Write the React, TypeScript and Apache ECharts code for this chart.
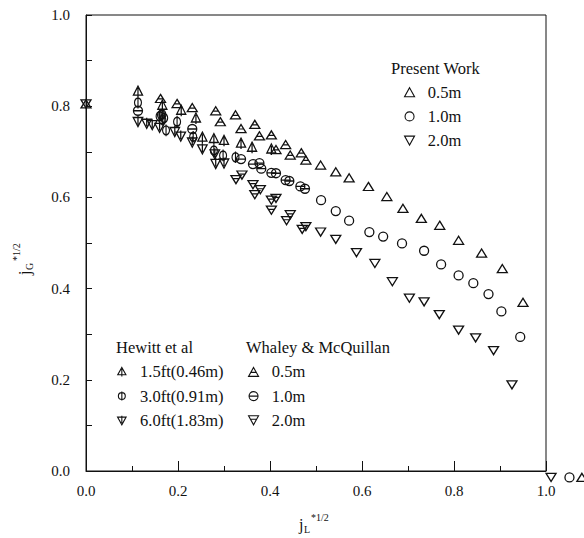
import React, { useEffect, useRef } from "react";
import * as echarts from "echarts";

// ---------- data (j_L*^1/2, j_G*^1/2) ----------
const presentWork05: number[][] = [
  [0.0, 0.805], [0.51, 0.671], [0.543, 0.656], [0.572, 0.643], [0.614, 0.624], [0.654, 0.602],
  [0.689, 0.576], [0.729, 0.554], [0.769, 0.539], [0.81, 0.506], [0.86, 0.478],
  [0.905, 0.444], [0.95, 0.37], [1.078, -0.014],
];
const presentWork10: number[][] = [
  [0.511, 0.594], [0.543, 0.57], [0.572, 0.549], [0.616, 0.524], [0.646, 0.514],
  [0.687, 0.499], [0.735, 0.483], [0.772, 0.453], [0.81, 0.429], [0.842, 0.412],
  [0.875, 0.388], [0.903, 0.35], [0.944, 0.294], [1.051, -0.014],
];
const presentWork20: number[][] = [
  [0.0, 0.805], [0.51, 0.524], [0.543, 0.508], [0.588, 0.479], [0.628, 0.455], [0.666, 0.415],
  [0.703, 0.379], [0.735, 0.371], [0.768, 0.343], [0.81, 0.309], [0.847, 0.292],
  [0.886, 0.264], [0.926, 0.189], [1.011, -0.014],
];
const hewitt15: number[][] = [
  [0.113, 0.832], [0.166, 0.801], [0.207, 0.79], [0.239, 0.773], [0.253, 0.731],
  [0.278, 0.728], [0.3, 0.724], [0.337, 0.718], [0.361, 0.709], [0.403, 0.705],
];
const hewitt30: number[][] = [
  [0.113, 0.808], [0.166, 0.782], [0.16, 0.778], [0.17, 0.774], [0.166, 0.77],
  [0.163, 0.781], [0.174, 0.747], [0.198, 0.766], [0.233, 0.733], [0.278, 0.703],
  [0.298, 0.692], [0.325, 0.688],
];
const hewitt60: number[][] = [
  [0.113, 0.767], [0.132, 0.763], [0.144, 0.76], [0.16, 0.754], [0.193, 0.745],
  [0.206, 0.735], [0.231, 0.722], [0.253, 0.707], [0.28, 0.696], [0.282, 0.675], [0.3, 0.676],
];
const whaley05: number[][] = [
  [0.162, 0.817], [0.198, 0.806], [0.231, 0.797], [0.282, 0.79], [0.292, 0.766],
  [0.325, 0.781], [0.337, 0.751], [0.367, 0.76], [0.377, 0.735], [0.403, 0.737],
  [0.413, 0.705], [0.434, 0.716], [0.444, 0.693], [0.468, 0.698], [0.478, 0.682],
];
const whaley10: number[][] = [
  [0.113, 0.79], [0.231, 0.75], [0.337, 0.684], [0.363, 0.673], [0.377, 0.675],
  [0.381, 0.663], [0.403, 0.654], [0.413, 0.653], [0.434, 0.638], [0.442, 0.636],
  [0.466, 0.624], [0.476, 0.619],
];
const whaley20: number[][] = [
  [0.326, 0.639], [0.339, 0.649], [0.363, 0.628], [0.367, 0.606], [0.379, 0.617],
  [0.403, 0.572], [0.403, 0.594], [0.413, 0.598], [0.436, 0.549], [0.444, 0.562],
  [0.47, 0.53], [0.478, 0.536],
];

const presentLabels = ["0.5m", "1.0m", "2.0m"];
const hewittLabels = ["1.5ft(0.46m)", "3.0ft(0.91m)", "6.0ft(1.83m)"];
const whaleyLabels = ["0.5m", "1.0m", "2.0m"];

// ---------- marker shapes ----------
const TRI = "M10,0 L20,18 L0,18 Z";
const TRID = "M0,0 L20,0 L10,18 Z";
const CIRC = "M0,10 A10,10 0 1,0 20,10 A10,10 0 1,0 0,10 Z";
const SYM = {
  triUp: { p: "path://" + TRI, s: [10, 9] },
  triUpV: { p: "path://" + TRI + " M10,4 L10,22", s: [10, 11] },
  triUpH: { p: "path://" + TRI + " M5,10 L15,10", s: [10, 9] },
  circ: { p: "path://" + CIRC, s: [9, 9] },
  circV: { p: "path://" + CIRC + " M10,-3 L10,23", s: [9, 11.7] },
  circH: { p: "path://" + CIRC + " M0,10 L20,10", s: [9, 9] },
  triDown: { p: "path://" + TRID, s: [10, 9] },
  triDownV: { p: "path://" + TRID + " M10,-3 L10,14", s: [10, 10.6] },
  triDownH: { p: "path://" + TRID + " M5,7 L15,7", s: [10, 9] },
};

const FONT = "Liberation Serif";
const INK = "#111";
const LEG_FS = 16.5;

export default function App() {
  const ref = useRef<HTMLDivElement>(null);
  useEffect(() => {
    document.body.style.margin = "0";
    if (!ref.current) return;
    const chart = echarts.init(ref.current, undefined, { renderer: "svg" });

    const mk = (name: string, data: number[][], sym: { p: string; s: number[] }) => ({
      name,
      type: "scatter",
      data,
      symbol: sym.p,
      symbolSize: sym.s,
      symbolKeepAspect: true,
      clip: false,
      itemStyle: { color: "rgba(0,0,0,0)", borderColor: INK, borderWidth: 1.3, opacity: 1 },
      emphasis: { disabled: true },
    });

    const legendBase = {
      orient: "vertical",
      padding: 0,
      itemWidth: 10,
      itemHeight: 9,
      itemGap: 7.2,
      selectedMode: false,
      textStyle: { fontFamily: FONT, fontSize: LEG_FS, color: INK, lineHeight: LEG_FS },
      itemStyle: { color: "rgba(0,0,0,0)", borderColor: INK, borderWidth: 1.1 },
    };
    const fmt = (labels: string[], names: string[]) => (n: string) => "  " + labels[names.indexOf(n)];
    const pNames = ["P 0.5m", "P 1.0m", "P 2.0m"];
    const hNames = ["H 1.5ft", "H 3.0ft", "H 6.0ft"];
    const wNames = ["W 0.5m", "W 1.0m", "W 2.0m"];

    const tickLabel = (v: number) => v.toFixed(1);
    const titleFont = `${LEG_FS}px "${FONT}"`;

    chart.setOption({
      animation: false,
      backgroundColor: "#fff",
      textStyle: { fontFamily: FONT, color: INK },
      grid: {
        left: 86, top: 15, width: 460, height: 456,
        show: true, borderColor: INK, borderWidth: 1, backgroundColor: "transparent",
      },
      xAxis: {
        type: "value", min: 0, max: 1, interval: 0.2,
        axisLine: { show: true, onZero: false, lineStyle: { color: INK, width: 1 } },
        axisTick: { show: true, inside: true, length: 10, lineStyle: { color: INK, width: 1 } },
        minorTick: { show: true, splitNumber: 2, length: 5, lineStyle: { color: INK, width: 1 } },
        splitLine: { show: false },
        axisLabel: { margin: 12, fontSize: 15, color: INK, fontFamily: FONT, formatter: tickLabel },
      },
      yAxis: {
        type: "value", min: 0, max: 1, interval: 0.2,
        axisLine: { show: true, onZero: false, lineStyle: { color: INK, width: 1 } },
        axisTick: { show: true, inside: true, length: 6, lineStyle: { color: INK, width: 1 } },
        minorTick: { show: true, splitNumber: 2, length: 6, lineStyle: { color: INK, width: 1 } },
        splitLine: { show: false },
        axisLabel: { margin: 16, fontSize: 15, color: INK, fontFamily: FONT, formatter: tickLabel },
      },
      legend: [
        { ...legendBase, left: 404, top: 83.7, data: pNames, formatter: fmt(presentLabels, pNames) },
        { ...legendBase, left: 117, top: 363.4, data: hNames, formatter: fmt(hewittLabels, hNames) },
        { ...legendBase, left: 248, top: 363.4, data: wNames, formatter: fmt(whaleyLabels, wNames) },
      ],
      graphic: [
        { type: "text", left: 391, top: 59.7, style: { text: "Present Work", font: titleFont, fill: INK } },
        { type: "text", left: 116, top: 338.7, style: { text: "Hewitt et al", font: titleFont, fill: INK } },
        { type: "text", left: 246, top: 338.7, style: { text: "Whaley & McQuillan", font: titleFont, fill: INK } },
        {
          type: "group", x: 0, y: 0,
          children: [
            { type: "text", x: 299, y: 524, style: { text: "j", font: `16px "${FONT}"`, fill: INK, verticalAlign: "middle" } },
            { type: "text", x: 304, y: 529, style: { text: "L", font: `10px "${FONT}"`, fill: INK, verticalAlign: "middle" } },
            { type: "text", x: 311, y: 517, style: { text: "*1/2", font: `10px "${FONT}"`, fill: INK, verticalAlign: "middle" } },
          ],
        },
        {
          type: "group", x: 24, y: 262, rotation: Math.PI / 2,
          children: [
            { type: "text", x: -13, y: 0, style: { text: "j", font: `16px "${FONT}"`, fill: INK, verticalAlign: "middle" } },
            { type: "text", x: -8, y: 5, style: { text: "G", font: `10px "${FONT}"`, fill: INK, verticalAlign: "middle" } },
            { type: "text", x: 1, y: -8, style: { text: "*1/2", font: `10px "${FONT}"`, fill: INK, verticalAlign: "middle" } },
          ],
        },
      ],
      series: [
        mk(pNames[0], presentWork05, SYM.triUp),
        mk(pNames[1], presentWork10, SYM.circ),
        mk(pNames[2], presentWork20, SYM.triDown),
        mk(hNames[0], hewitt15, SYM.triUpV),
        mk(hNames[1], hewitt30, SYM.circV),
        mk(hNames[2], hewitt60, SYM.triDownV),
        mk(wNames[0], whaley05, SYM.triUpH),
        mk(wNames[1], whaley10, SYM.circH),
        mk(wNames[2], whaley20, SYM.triDownH),
      ],
    });
    return () => chart.dispose();
  }, []);
  return <div ref={ref} style={{ width: 584, height: 538 }} />;
}
